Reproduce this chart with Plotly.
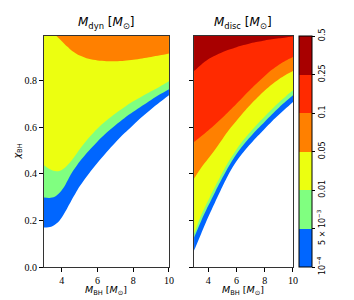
import plotly.graph_objects as go

# ---------------- data ----------------
# colour levels (M_sun), bottom to top of the colour bar
level_labels = ["10<sup>−4</sup>", "5 × 10<sup>−3</sup>", "0.01", "0.05", "0.1", "0.25", "0.5"]
band_colors = ["#0066ff", "#80ff80", "#ecff10", "#ff8000", "#ff2a00", "#a80000"]

x_ticks = [4, 6, 8, 10]
y_ticks = [0.0, 0.2, 0.4, 0.6, 0.8]
x_min, x_max = 3.0, 10.0
y_min, y_max = 0.0, 0.99

# ---- left panel: M_dyn, lower edge of each band ----
dyn_blue_x = [3.0, 3.4, 3.8, 4.1, 4.5, 5.0, 5.5, 6.0, 6.5, 7.0, 7.5, 8.0, 8.5, 9.0, 9.5, 10.0]
dyn_blue_y = [0.169, 0.172, 0.193, 0.225, 0.280, 0.346, 0.399, 0.447, 0.492, 0.534, 0.573, 0.609, 0.644, 0.676, 0.707, 0.736]

dyn_green_x = [3.0, 3.3, 3.6, 3.9, 4.2, 4.5, 5.0, 5.5, 6.0, 6.5, 7.0, 7.5, 8.0, 8.5, 9.0, 9.5, 10.0]
dyn_green_y = [0.298, 0.296, 0.301, 0.320, 0.353, 0.396, 0.452, 0.497, 0.538, 0.575, 0.608, 0.638, 0.665, 0.691, 0.716, 0.740, 0.762]

dyn_yellow_x = [3.0, 3.3, 3.6, 3.9, 4.2, 4.5, 5.0, 5.5, 6.0, 6.5, 7.0, 7.5, 8.0, 8.5, 9.0, 9.5, 10.0]
dyn_yellow_y = [0.436, 0.420, 0.411, 0.413, 0.428, 0.452, 0.505, 0.553, 0.594, 0.628, 0.658, 0.685, 0.710, 0.732, 0.753, 0.774, 0.796]

dyn_orange_x = [3.70, 4.0, 4.3, 4.6, 5.0, 5.5, 6.0, 6.5, 7.0, 7.5, 8.0, 8.5, 9.0, 9.5, 10.0]
dyn_orange_y = [0.99, 0.968, 0.945, 0.925, 0.906, 0.892, 0.885, 0.882, 0.882, 0.884, 0.888, 0.894, 0.900, 0.907, 0.915]

# ---- right panel: M_disc, lower edge of each band ----
disc_x = [3.0, 3.5, 4.0, 4.5, 5.0, 5.5, 6.0, 6.5, 7.0, 7.5, 8.0, 8.5, 9.0, 9.5, 10.0]
disc_blue_y = [0.071, 0.143, 0.214, 0.280, 0.344, 0.404, 0.453, 0.493, 0.528, 0.561, 0.593, 0.624, 0.652, 0.680, 0.707]
disc_green_y = [0.126, 0.197, 0.262, 0.323, 0.382, 0.436, 0.484, 0.524, 0.559, 0.592, 0.623, 0.654, 0.683, 0.710, 0.736]
disc_yellow_y = [0.143, 0.222, 0.285, 0.346, 0.404, 0.457, 0.504, 0.545, 0.580, 0.614, 0.645, 0.676, 0.705, 0.732, 0.757]
disc_orange_y = [0.379, 0.425, 0.465, 0.505, 0.548, 0.590, 0.627, 0.663, 0.696, 0.727, 0.756, 0.782, 0.805, 0.824, 0.840]
disc_red_y = [0.536, 0.560, 0.585, 0.612, 0.640, 0.670, 0.700, 0.731, 0.762, 0.791, 0.819, 0.845, 0.867, 0.885, 0.900]
disc_darkred_y = [0.840, 0.867, 0.890, 0.906, 0.920, 0.932, 0.942, 0.951, 0.959, 0.965, 0.971, 0.976, 0.980, 0.984, 0.988]

# ---------------- geometry (pixels) ----------------
W, H = 354, 300
ML, MR, MT, MB = 43.8, W - 293.3, 35.7, H - 266.7
PW = W - ML - MR
left_dom = [0, (169.0 - ML) / PW]
right_dom = [(194.2 - ML) / PW, 1]

fig = go.Figure()


def add_band(xs, ys, color, xa, ya):
    # region above the given lower edge, up to the top of the panel
    fig.add_trace(go.Scatter(x=xs, y=[y_max] * len(xs), mode="lines",
                             line=dict(width=0), hoverinfo="skip",
                             showlegend=False, xaxis=xa, yaxis=ya))
    fig.add_trace(go.Scatter(x=xs, y=ys, fill="tonexty", fillcolor=color,
                             mode="lines", line=dict(width=0, color=color, shape="spline",
                                                     smoothing=0.8),
                             hoverinfo="skip", showlegend=False,
                             xaxis=xa, yaxis=ya))


add_band(dyn_blue_x, dyn_blue_y, band_colors[0], "x", "y")
add_band(dyn_green_x, dyn_green_y, band_colors[1], "x", "y")
add_band(dyn_yellow_x, dyn_yellow_y, band_colors[2], "x", "y")
add_band(dyn_orange_x, dyn_orange_y, band_colors[3], "x", "y")

for ys, c in zip([disc_blue_y, disc_green_y, disc_yellow_y, disc_orange_y, disc_red_y, disc_darkred_y],
                 band_colors):
    add_band(disc_x, ys, c, "x2", "y2")

# colour bar (discrete)
n = len(band_colors)
cscale = []
for i, c in enumerate(band_colors):
    cscale.append([i / n, c])
    cscale.append([(i + 1) / n, c])
fig.add_trace(go.Scatter(
    x=[x_min, x_min], y=[y_min, y_min], mode="markers",
    marker=dict(size=0.1, opacity=0, color=[0, n], cmin=0, cmax=n,
                colorscale=cscale, showscale=True,
                colorbar=dict(
                    x=(299.3 - ML) / PW, xanchor="left", xpad=0, ypad=0,
                    y=0.5, yanchor="middle", len=1, lenmode="fraction",
                    thickness=13, thicknessmode="pixels",
                    outlinewidth=1, outlinecolor="black",
                    tickmode="array", tickvals=list(range(n + 1)),
                    ticktext=level_labels, ticks="outside", ticklen=3,
                    tickcolor="black", tickangle=-90,
                    tickfont=dict(family="DejaVu Sans", size=8, color="black"))),
    hoverinfo="skip", showlegend=False, xaxis="x2", yaxis="y2"))

axis_common = dict(showgrid=False, zeroline=False, showline=True, linecolor="#333",
                   linewidth=1, mirror=True, ticks="outside", ticklen=4,
                   tickcolor="black",
                   tickfont=dict(family="Liberation Serif", size=10, color="black"))

fig.update_layout(
    width=W, height=H,
    margin=dict(l=ML, r=MR, t=MT, b=MB, pad=0),
    paper_bgcolor="white", plot_bgcolor="white",
    xaxis=dict(domain=left_dom, range=[x_min, x_max],
               tickvals=x_ticks, anchor="y", **axis_common),
    yaxis=dict(domain=[0, 1], range=[y_min, y_max], tickvals=y_ticks,
               tickformat=".1f", anchor="x", **axis_common),
    xaxis2=dict(domain=right_dom, range=[x_min, x_max],
                tickvals=x_ticks, anchor="y2", **axis_common),
    yaxis2=dict(domain=[0, 1], range=[y_min, y_max], tickvals=y_ticks,
                showticklabels=False, anchor="x2", **axis_common),
)


def px2fx(px):
    return (px - ML) / PW


def py2fy(py):
    return (H - MB - py) / (H - MT - MB)


title_font = dict(family="DejaVu Sans", size=12, color="black")
lab_font = dict(family="DejaVu Sans", size=9.5, color="black")
fig.add_annotation(text="<i>M</i><sub>dyn</sub> [<i>M</i><sub>⊙</sub>]", xref="paper", yref="paper",
                   x=px2fx(106.4), y=py2fy(23), showarrow=False, font=title_font,
                   xanchor="center", yanchor="middle")
fig.add_annotation(text="<i>M</i><sub>disc</sub> [<i>M</i><sub>⊙</sub>]", xref="paper", yref="paper",
                   x=px2fx(243.7), y=py2fy(23), showarrow=False, font=title_font,
                   xanchor="center", yanchor="middle")
for cx in [106.4, 243.7]:
    fig.add_annotation(text="<i>M</i><sub>BH</sub> [<i>M</i><sub>⊙</sub>]", xref="paper", yref="paper",
                       x=px2fx(cx), y=py2fy(290), showarrow=False, font=lab_font,
                       xanchor="center", yanchor="middle")
fig.add_annotation(text="<i>χ</i><sub>BH</sub>", xref="paper", yref="paper",
                   x=px2fx(17), y=py2fy(151), showarrow=False, font=lab_font,
                   textangle=-90, xanchor="center", yanchor="middle")

fig.write_html("out.html", config={"displayModeBar": False},
               post_script="document.body.style.margin='0px';document.body.style.padding='0px';")
